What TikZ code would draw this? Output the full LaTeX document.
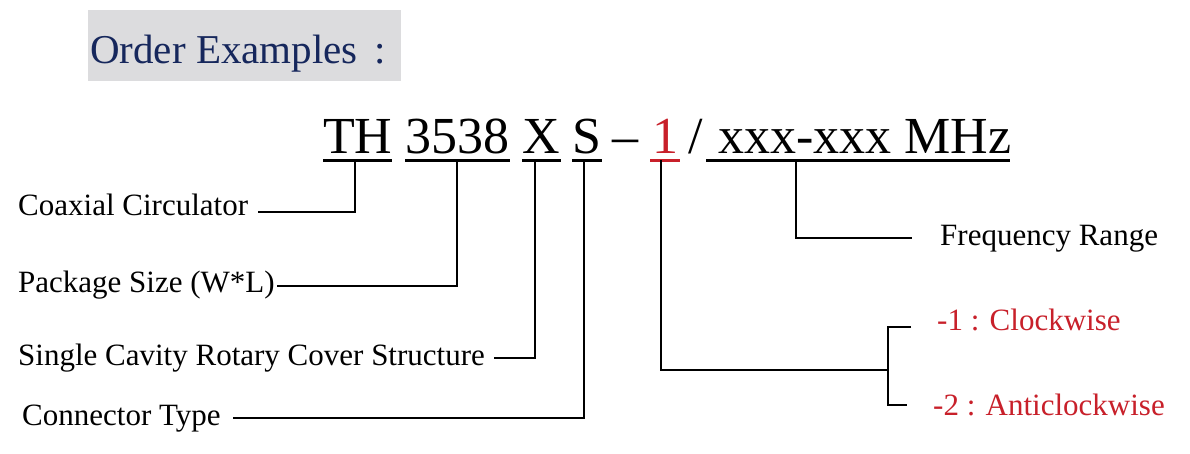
\documentclass[tikz,border=0pt]{standalone}
\usepackage{fontspec}
\setmainfont{Liberation Serif}
\usetikzlibrary{calc}
\definecolor{navy}{HTML}{16275C}
\definecolor{titlebg}{HTML}{DCDCDE}
\definecolor{codered}{HTML}{C8202A}
\tikzset{
  code/.style={inner sep=0pt, anchor=base west, font=\fontsize{52}{60}\selectfont},
  lbl/.style={inner sep=0pt, anchor=base west, text height=20pt, text depth=6pt, font=\fontsize{31}{36}\selectfont},
  redlbl/.style={lbl, text=codered},
  uline/.style={line width=3pt},
  conn/.style={line width=2.4pt},
}
\begin{document}
\begin{tikzpicture}[x=1pt,y=-1pt]
\useasboundingbox (0,0) rectangle (1190,453);
\fill[white] (0,0) rectangle (1190,453);
% title
\fill[titlebg] (88,10) rectangle (401,81);
\node[inner sep=0pt, anchor=base west, text=navy, font=\fontsize{41}{46}\selectfont] (title) at (90,63) {Order Examples\hspace{17pt}:};
% code line
\node[code] (th) at (323,153) {TH};
\node[code] (size) at (405,153) {3538};
\node[code] (xx) at (522,153) {X};
\node[code] (ss) at (572,153) {S};
\node[code] (dash) at (612,153) {--};
\node[code, text=codered] (one) at (652,153) {1};
\node[code] (slash) at (688,153) {/};
\node[code] (freq) at (718,153) {xxx-xxx MHz};
% underlines
\draw[uline] (323,160) -- (392,160);
\draw[uline] (405,160) -- (510,160);
\draw[uline] (522,160) -- (561,160);
\draw[uline] (572,160) -- (602,160);
\draw[uline, codered] (650,160) -- (680,160);
\draw[uline] (706,160) -- (1010,160);
% drop points
\coordinate (pth) at (355,160);
\coordinate (psize) at (457,160);
\coordinate (pxx) at (535,160);
\coordinate (pss) at (584,160);
\coordinate (pone) at (661,160);
\coordinate (pfreq) at (796,160);
% labels
\node[lbl] (coax) at (18,215) {Coaxial Circulator};
\node[lbl] (pack) at (18,292) {Package Size (W*L)};
\node[lbl] (cav) at (18,365) {Single Cavity Rotary Cover Structure};
\node[lbl] (conn) at (22,425) {Connector Type};
\node[lbl] (frange) at (940,245) {Frequency Range};
\node[redlbl] (cw) at (937,330) {-1 : Clockwise};
\node[redlbl] (acw) at (933,415) {-2 : Anticlockwise};
% connectors
\draw[conn] (pth) |- ([xshift=10pt,yshift=-4pt]coax.east);
\draw[conn] (psize) |- ([xshift=2pt,yshift=-1pt]pack.east);
\draw[conn] (pxx) |- ([xshift=9pt]cav.east);
\draw[conn] (pss) |- ([xshift=12pt]conn.east);
\draw[conn] (pfreq) |- ([xshift=-28pt]frange.west);
\coordinate (br) at (888,370);
\draw[conn] (pone) |- (br);
\draw[conn] ([xshift=-26pt,yshift=-4pt]cw.west) -| (888,405) -- ([xshift=-26pt,yshift=3pt]acw.west);
\end{tikzpicture}
\end{document}
